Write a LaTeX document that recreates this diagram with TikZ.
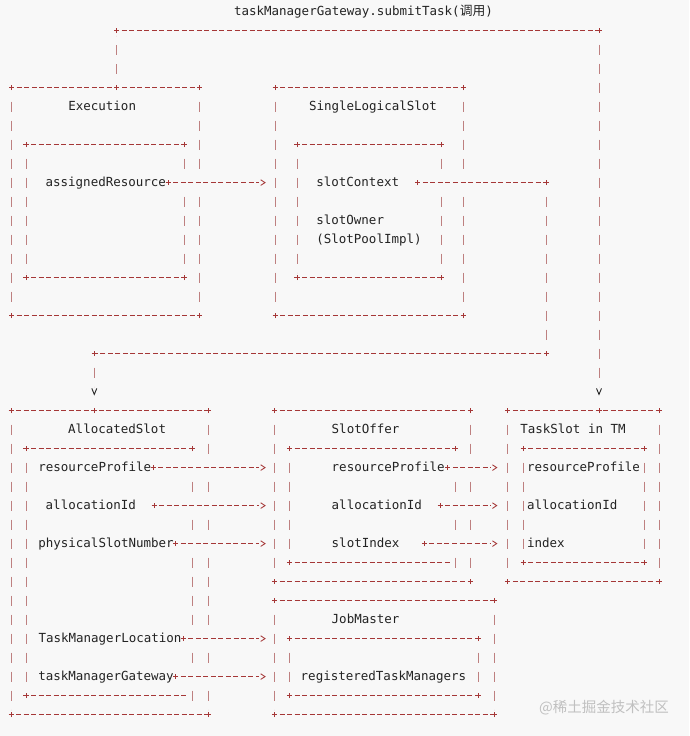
\documentclass[tikz,border=0pt]{standalone}
\usepackage{fontspec}
\newfontfamily\mono{DejaVu Sans Mono}
\newfontfamily\cjk{Noto Sans CJK SC}
\usetikzlibrary{fit,calc}
\definecolor{bgc}{RGB}{248,248,248}
\definecolor{hlc}{RGB}{165,55,55}
\definecolor{vlc}{RGB}{190,128,128}
\definecolor{txtc}{RGB}{35,35,35}
\definecolor{wmc}{RGB}{192,192,192}
\tikzset{
 hl/.style={draw=hlc, line width=0.85pt, dash pattern=on 5pt off 2.52pt, dash phase=5pt, shorten <=2.5pt, shorten >=2.5pt},
 vl/.style={draw=vlc, line width=0.9pt, dash pattern=on 10pt off 9pt, dash phase=10pt, shorten <=5pt, shorten >=5pt},
 erase/.style={draw=bgc, line width=11pt, shorten <=3pt},
 txt/.style={font=\mono\fontsize{12.5}{15}\selectfont, text=txtc, inner sep=0pt, outer sep=0pt, anchor=west, text height=8.2pt, text depth=0pt},
 boxn/.style={inner sep=0pt, outer sep=0pt, draw=none},
 pics/pl/.style={code={\draw[hlc, line width=0.85pt] (-2.6pt,0pt) -- (2.6pt,0pt) (0pt,-2.6pt) -- (0pt,2.6pt);}},
 pics/rtip/.style={code={\draw[hlc, line width=0.85pt] (-4.3pt,2.8pt) -- (0pt,0pt) -- (-4.3pt,-2.8pt);}},
 pics/dtip/.style={code={\draw[txtc, line width=0.9pt] (-2.5pt,3.2pt) -- (0pt,-2.8pt) -- (2.5pt,3.2pt);}},
}
\newcommand\abox[1]{%
 \draw[hl] (#1.north west) -- (#1.north east);
 \draw[hl] (#1.south west) -- (#1.south east);
 \draw[vl] (#1.north west) -- (#1.south west);
 \draw[vl] (#1.north east) -- (#1.south east);
 \pic at (#1.north west) {pl}; \pic at (#1.north east) {pl};
 \pic at (#1.south west) {pl}; \pic at (#1.south east) {pl};}
\newcommand\aboxo[1]{%
 \draw[hl] (#1.north west) -- (#1.north east);
 \draw[hl, shorten >=4pt] (#1.south west) -- (#1.south east);
 \draw[vl] (#1.north west) -- (#1.south west);
 \draw[vl, shorten >=-5pt] (#1.north east) -- (#1.south east);
 \pic at (#1.north west) {pl}; \pic at (#1.north east) {pl};
 \pic at (#1.south west) {pl};}
\newcommand\harrow[4]{%
 \draw[erase] ([xshift=#2]#1.east) -- ($(#1.east -| #3.west)+(-#4,0pt)$);
 \draw[hl, shorten >=6pt] ([xshift=#2]#1.east) -- ($(#1.east -| #3.west)+(-#4,0pt)$);
 \pic at ([xshift=#2]#1.east) {pl};
 \pic at ($(#1.east -| #3.west)+(-#4,0pt)$) {rtip};}
\begin{document}
\begin{tikzpicture}[x=1pt,y=-19pt]
\fill[bgc] (0,-0.61053) rectangle (689,38.12632);
\useasboundingbox (0,-0.61053) rectangle (689,38.12632);
% boxes
\node[boxn, fit={(11.7,4) (199.7,16)}] (exec) {};
\node[boxn, fit={(26,7) (184.8,14)}] (execI) {};
\node[boxn, fit={(275.3,4) (463.3,16)}] (sls) {};
\node[boxn, fit={(297,7) (441,14)}] (slsI) {};
\node[boxn, fit={(11.2,21) (208.3,37)}] (alloc) {};
\node[boxn, fit={(26,23) (192,36)}] (allocI) {};
\node[boxn, fit={(274.5,21) (470.8,30)}] (offer) {};
\node[boxn, fit={(289.5,23) (455.5,29)}] (offerI) {};
\node[boxn, fit={(507.8,21) (659.2,30)}] (tslot) {};
\node[boxn, fit={(523.3,23) (644.2,29)}] (tslotI) {};
\node[boxn, fit={(274.5,31) (494.8,37)}] (jm) {};
\node[boxn, fit={(289.5,33) (478.5,36)}] (jmI) {};
\abox{exec} \abox{execI} \abox{sls} \abox{slsI}
\abox{alloc} \aboxo{allocI} \abox{offer} \aboxo{offerI}
\abox{tslot} \abox{tslotI} \abox{jm} \abox{jmI}
% texts
\node[txt] (title) at (234,0) {taskManagerGateway.submitTask({\cjk\fontsize{12.8}{15}\selectfont 调用})};
\node[txt] (exT) at (68.3,5) {Execution};
\node[txt] (asg) at (45.6,9) {assignedResource};
\node[txt] (slsT) at (309,5) {SingleLogicalSlot};
\node[txt] (sctx) at (316.3,9) {slotContext};
\node[txt] (sown) at (316.3,11) {slotOwner};
\node[txt] (spi) at (316.3,12) {(SlotPoolImpl)};
\node[txt] (alT) at (68.2,22) {AllocatedSlot};
\node[txt] (alRP) at (38.3,24) {resourceProfile};
\node[txt] (alAI) at (45.7,26) {allocationId};
\node[txt] (alPS) at (38.3,28) {physicalSlotNumber};
\node[txt] (alTL) at (38.5,33) {TaskManagerLocation};
\node[txt] (alTG) at (38.3,35) {taskManagerGateway};
\node[txt] (ofT) at (331.7,22) {SlotOffer};
\node[txt] (ofRP) at (331.7,24) {resourceProfile};
\node[txt] (ofAI) at (331.7,26) {allocationId};
\node[txt] (ofSI) at (331.7,28) {slotIndex};
\node[txt] (tsT) at (520.3,22) {TaskSlot in TM};
\node[txt] (tsRP) at (527,24) {resourceProfile};
\node[txt] (tsAI) at (527,26) {allocationId};
\node[txt] (tsIX) at (527,28) {index};
\node[txt] (jmT) at (331.7,32) {JobMaster};
\node[txt] (jmR) at (300.7,35) {registeredTaskManagers};
\node[font=\cjk\fontsize{14.5}{17}\selectfont, text=wmc, inner sep=0pt, anchor=west] (wm) at (539,36.64) {@稀土掘金技术社区};
% horizontal arrows
\harrow{asg}{2.3pt}{sls}{10.3pt}
\harrow{alRP}{2.2pt}{offer}{9.5pt}
\harrow{alAI}{18.1pt}{offer}{9.5pt}
\harrow{alPS}{2pt}{offer}{9.5pt}
\harrow{alTL}{1.9pt}{jm}{9.5pt}
\harrow{alTG}{2pt}{jm}{9.5pt}
\harrow{ofRP}{3.2pt}{tslot}{11.1pt}
\harrow{ofAI}{18.1pt}{tslot}{11.1pt}
\harrow{ofSI}{25pt}{tslot}{11.1pt}
% slotContext -> AllocatedSlot
\coordinate (c1) at (546.5,9);
\coordinate (c2) at (546.5,18);
\coordinate (c3) at (94.3,18);
\coordinate (c4) at (94.3,20);
\draw[erase] ([xshift=18.8pt]sctx.east) -- (c1);
\draw[hl] ([xshift=18.8pt]sctx.east) -- (c1);
\draw[vl] (c1) -- (c2);
\draw[hl] (c2) -- (c3);
\draw[vl] (c3) -- (c4);
\pic at ([xshift=18.8pt]sctx.east) {pl};
\pic at (c1) {pl}; \pic at (c2) {pl}; \pic at (c3) {pl};
\pic at (c4) {dtip};
\pic at (c3 |- alloc.north) {pl};
% Execution -> TaskSlot (submitTask)
\coordinate (tl) at (116.7,1);
\coordinate (tr) at (599,1);
\coordinate (tv) at (599,20);
\draw[vl] (tl |- exec.north) -- (tl);
\draw[hl] (tl) -- (tr);
\draw[vl] (tr) -- (tv);
\pic at (tl |- exec.north) {pl};
\pic at (tl) {pl}; \pic at (tr) {pl};
\pic at (tv) {dtip};
\pic at (tr |- tslot.north) {pl};
\end{tikzpicture}
\end{document}
